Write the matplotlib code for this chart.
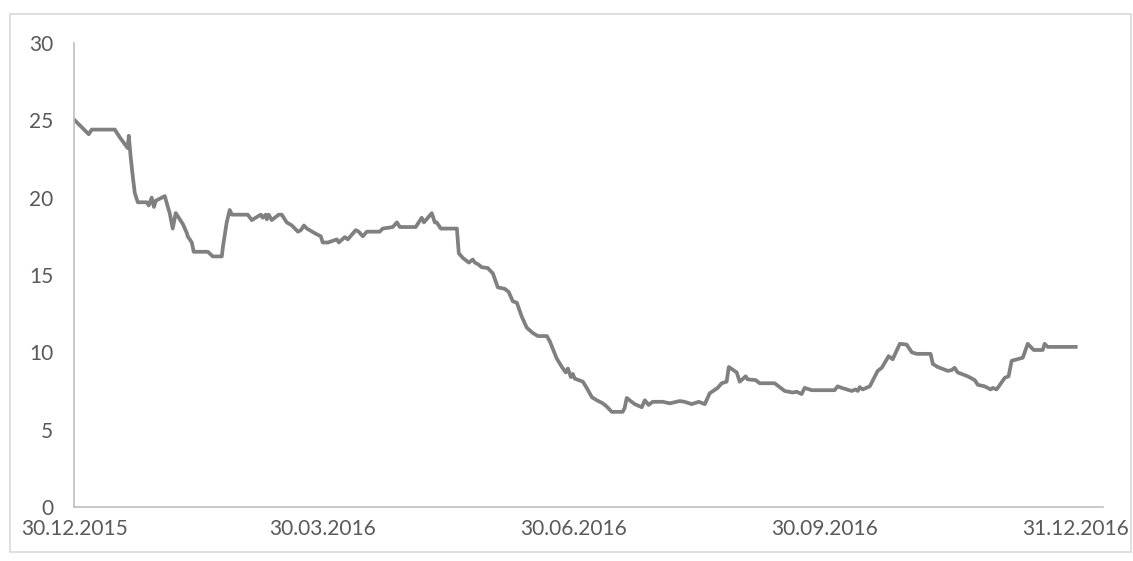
import pandas as pd
import matplotlib.pyplot as plt
import matplotlib.dates as mdates
from matplotlib.patches import Rectangle

# days since 30.12.2015
days = [0, 5.1, 6.2, 14.7, 15.4, 16.5, 19.4, 19.8, 20.5, 21.3, 22.0, 23.1, 26.4, 27.1, 28.2,
        29.0, 29.7, 33.0, 34.1, 34.8, 35.9, 37.0, 39.2, 39.6, 41.1, 41.4, 42.9, 43.6, 48.8,
        50.6, 53.9, 54.3, 55.7, 56.8, 57.6, 63.4, 64.9, 68.2, 68.9, 70.0, 70.4, 71.1, 72.2,
        74.8, 75.9, 77.7, 79.6, 81.8, 82.9, 84.0, 85.1, 88.0, 90.2, 90.9, 92.8, 96.1, 96.8,
        99.0, 100.1, 103.0, 104.1, 105.6, 107.1, 111.8, 112.9, 116.6, 118.1, 119.2, 125.0,
        127.2, 128.0, 130.9, 132.0, 132.7, 134.2, 140.1, 140.8, 142.3, 144.5, 145.9, 146.7,
        147.8, 149.2, 151.4, 153.3, 155.1, 157.7, 159.1, 160.6, 162.1, 163.9, 165.7, 167.9,
        169.8, 173.1, 174.2, 176.7, 178.6, 180.0, 180.8, 181.9, 182.6, 183.3, 186.3, 187.7,
        189.6, 191.4, 193.6, 195.0, 196.9, 200.9, 201.6, 202.4, 203.8, 205.3, 207.9, 209.0,
        210.4, 211.9, 215.6, 218.2, 221.8, 223.6, 226.2, 228.8, 231.0, 232.8, 235.7, 237.2,
        239.0, 239.8, 242.7, 243.8, 246.0, 246.7, 249.7, 251.1, 256.6, 260.3, 263.2, 264.7,
        266.5, 267.6, 270.2, 278.6, 279.7, 281.2, 284.9, 286.3, 287.1, 287.8, 288.9, 291.5,
        294.4, 295.9, 298.4, 299.9, 302.5, 305.0, 306.9, 308.7, 313.8, 314.6, 316.4, 320.1,
        321.5, 322.6, 323.7, 327.4, 330.0, 331.1, 333.6, 335.8, 336.6, 338.0, 341.0, 342.4,
        343.5, 347.6, 349.4, 351.6, 354.9, 355.6, 356.7, 367.0]
values = [25.0, 24.1, 24.4, 24.4, 24.2, 23.9, 23.2, 24.0, 22.6, 21.3, 20.3, 19.7, 19.7, 19.5, 20.0,
          19.4, 19.8, 20.1, 19.4, 19.0, 18.0, 19.0, 18.4, 18.3, 17.7, 17.5, 17.1, 16.5, 16.5,
          16.2, 16.2, 16.8, 18.4, 19.2, 18.9, 18.9, 18.55, 18.9, 18.7, 18.9, 18.6, 18.9, 18.55,
          18.9, 18.9, 18.4, 18.2, 17.8, 17.9, 18.2, 18.0, 17.7, 17.5, 17.1, 17.1, 17.3, 17.1,
          17.45, 17.3, 17.9, 17.8, 17.5, 17.8, 17.8, 18.0, 18.1, 18.4, 18.1, 18.1,
          18.7, 18.4, 19.0, 18.4, 18.4, 18.0, 18.0, 16.4, 16.1, 15.8, 16.0, 15.8,
          15.7, 15.5, 15.45, 15.1, 14.2, 14.1, 13.9, 13.3, 13.2, 12.3, 11.6, 11.25,
          11.05, 11.05, 10.7, 9.6, 9.05, 8.7, 8.95, 8.4, 8.6, 8.3, 8.1, 7.7,
          7.1, 6.9, 6.7, 6.5, 6.15, 6.15, 6.4, 7.05, 6.85, 6.65, 6.45, 6.9,
          6.6, 6.8, 6.8, 6.7, 6.85, 6.8, 6.65, 6.8, 6.65, 7.35, 7.7, 8.0,
          8.1, 9.05, 8.7, 8.1, 8.45, 8.25, 8.2, 8.0, 8.0, 7.5, 7.4, 7.45,
          7.3, 7.7, 7.55, 7.55, 7.8, 7.7, 7.5, 7.6, 7.5, 7.75, 7.6, 7.8,
          8.8, 9.0, 9.75, 9.55, 10.55, 10.5, 10.0, 9.9, 9.9, 9.25, 9.05, 8.8,
          8.85, 9.0, 8.7, 8.45, 8.2, 7.9, 7.8, 7.6, 7.7, 7.6, 8.35, 8.45,
          9.45, 9.65, 10.55, 10.15, 10.15, 10.55, 10.35, 10.35]
tick_dates = ['2015-12-30', '2016-03-30', '2016-06-30', '2016-09-30', '2016-12-31']

start = pd.Timestamp('2015-12-30')
dates = start + pd.to_timedelta(days, unit='D')

plt.rcParams['font.family'] = ['Lato', 'DejaVu Sans']
fig = plt.figure(figsize=(11.33, 5.61), dpi=100)
ax = fig.add_axes([0.0653, 0.0963, 0.9082, 0.8271])

fig.patches.append(Rectangle((10 / 1133, 1 - 552 / 561), 1121 / 1133, 538 / 561,
                             transform=fig.transFigure, fill=False,
                             edgecolor='#d9d9d9', linewidth=1.2))

ax.plot(dates, values, color='#808080', linewidth=2.7, solid_joinstyle='round')

ax.set_ylim(0, 30)
ax.set_yticks(range(0, 31, 5))
ax.set_xlim(start - pd.Timedelta(days=0.3), start + pd.Timedelta(days=377))
ax.set_xticks(pd.to_datetime(tick_dates))
ax.xaxis.set_major_formatter(mdates.DateFormatter('%d.%m.%Y'))

for s in ['top', 'right']:
    ax.spines[s].set_visible(False)
for s in ['left', 'bottom']:
    ax.spines[s].set_color('#bfbfbf')
    ax.spines[s].set_linewidth(1.2)

ax.tick_params(axis='both', length=0, labelsize=15, labelcolor='#595959')
ax.tick_params(axis='y', pad=15)
ax.tick_params(axis='x', pad=9)

plt.savefig('out.png', dpi=100)
